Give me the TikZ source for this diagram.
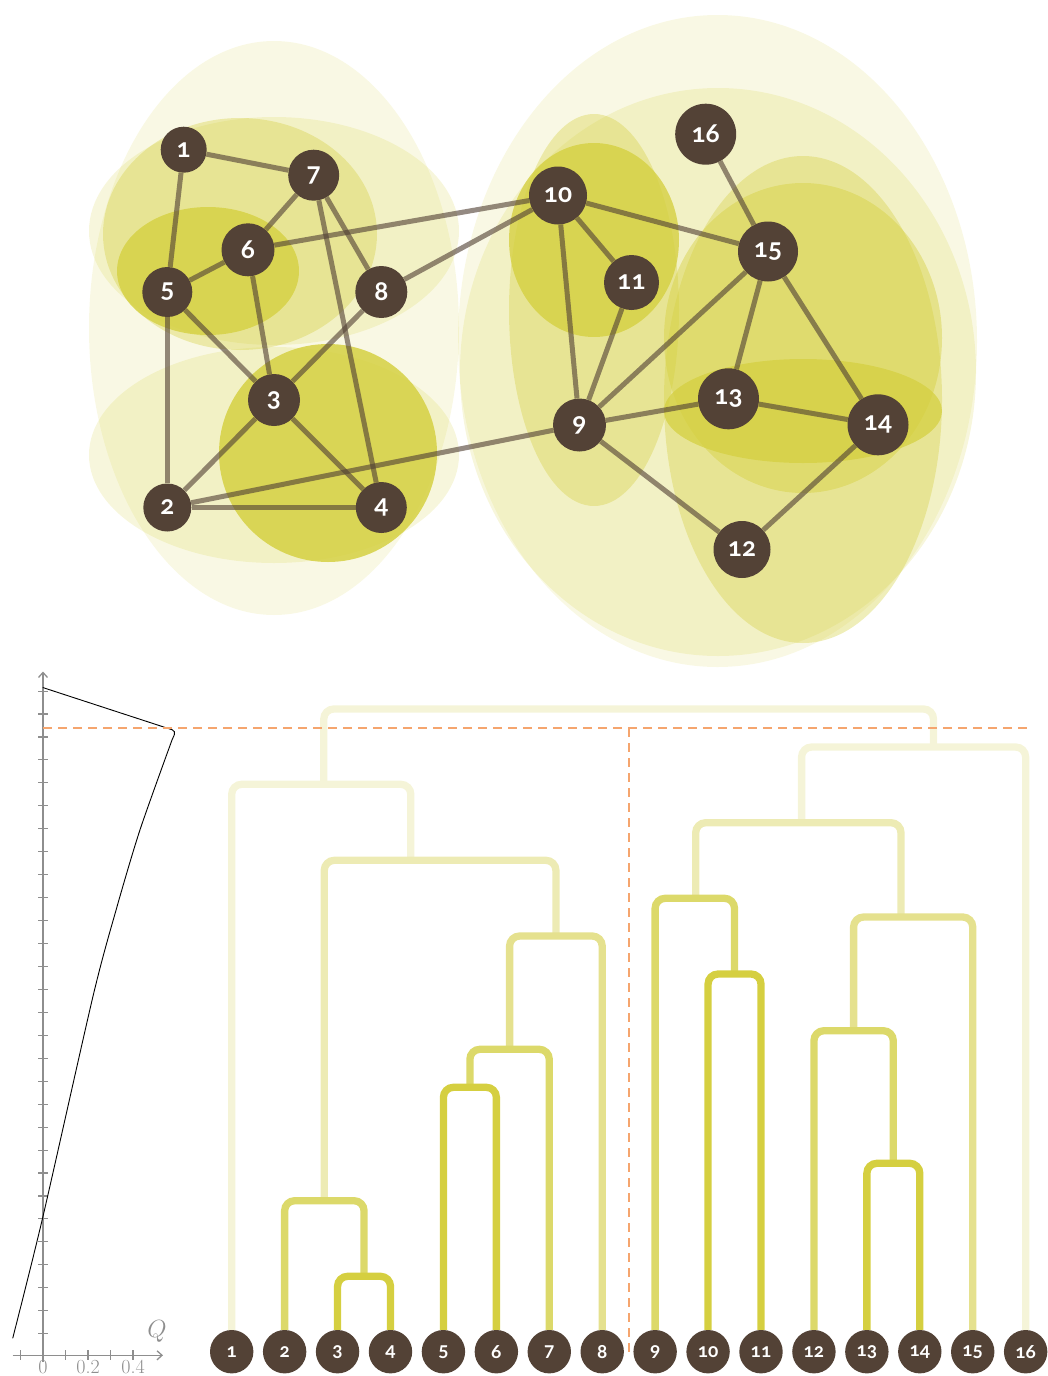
\documentclass[tikz,border=0pt]{standalone}
\usepackage{fontspec}
\newfontfamily\numfont{Lato}[Numbers=OldStyle]
\usetikzlibrary{arrows.meta}
\definecolor{nodebrown}{HTML}{534236}
\definecolor{blobY}{HTML}{D4CF3E}
\definecolor{dA}{HTML}{D5CF40}
\definecolor{dB}{HTML}{DCD96A}
\definecolor{dC}{HTML}{E5E18E}
\definecolor{dD}{HTML}{EDEBB4}
\definecolor{dE}{HTML}{F5F4D8}
\definecolor{cutorange}{HTML}{F5A56E}
\definecolor{axisgray}{HTML}{8E8E8E}
\begin{document}
\begin{tikzpicture}[x=1pt,y=-1pt,
  gnode/.style={circle,fill=nodebrown,text=white,inner sep=0pt,
    font=\numfont\bfseries\fontsize{26}{26}\selectfont},
  leaf/.style={circle,fill=nodebrown,text=white,inner sep=0pt,minimum size=43.4pt,
    font=\numfont\bfseries\fontsize{19}{19}\selectfont},
  edge/.style={draw=nodebrown,draw opacity=0.62,line width=5pt},
  blob/.style={fill=blobY,fill opacity=#1},
  dend/.style={line width=7.3pt,rounded corners=10pt},
  cut/.style={draw=cutorange,line width=1.5pt,dash pattern=on 9pt off 6pt},
  axis/.style={draw=axisgray,line width=1.3pt},
  tick/.style={draw=axisgray,line width=1.1pt},
  axlabel/.style={text=axisgray,inner sep=0pt,anchor=base,font=\fontsize{20}{20}\selectfont}
]
\useasboundingbox (0,0) rectangle (1047,1376);

% ---------- cluster blobs ----------
\fill[blob=0.14] (274,328) ellipse [x radius=185pt, y radius=287pt];
\fill[blob=0.18] (274,231) ellipse [x radius=185pt, y radius=114pt];
\fill[blob=0.36] (240,234) ellipse [x radius=137pt, y radius=116pt];
\fill[blob=0.78] (208,271) ellipse [x radius=91pt, y radius=64pt];
\fill[blob=0.18] (274,455) ellipse [x radius=185pt, y radius=108pt];
\fill[blob=0.83] (328,453) ellipse [x radius=109pt, y radius=109pt];

\fill[blob=0.14] (717.5,341) ellipse [x radius=259.5pt, y radius=326pt];
\fill[blob=0.18] (718,372) ellipse [x radius=258pt, y radius=284pt];
\fill[blob=0.36] (594,310) ellipse [x radius=85pt, y radius=196pt];
\fill[blob=0.78] (594,240) ellipse [x radius=85pt, y radius=97pt];
\fill[blob=0.36] (803,399.5) ellipse [x radius=139pt, y radius=243.5pt];
\fill[blob=0.44] (803,338) ellipse [x radius=139pt, y radius=155pt];
\fill[blob=0.72] (803,411) ellipse [x radius=139pt, y radius=52pt];

% ---------- graph nodes ----------
\node[gnode,minimum size=46pt] (n1) at (183.7,149.7) {1};
\node[gnode,minimum size=51pt] (n7) at (313.7,175.2) {7};
\node[gnode,minimum size=53pt] (n6) at (248,249.8) {6};
\node[gnode,minimum size=50pt] (n5) at (167.3,292) {5};
\node[gnode,minimum size=52pt] (n8) at (381.3,292) {8};
\node[gnode,minimum size=52pt] (n3) at (274,400) {3};
\node[gnode,minimum size=48pt] (n2) at (167.3,507.5) {2};
\node[gnode,minimum size=51pt] (n4) at (381.3,507.5) {4};
\node[gnode,minimum size=58pt] (n10) at (558,195.5) {10};
\node[gnode,minimum size=55pt] (n11) at (631.5,282.5) {11};
\node[gnode,minimum size=53pt] (n9) at (579.5,425) {9};
\node[gnode,minimum size=60pt] (n15) at (768,251.5) {15};
\node[gnode,minimum size=61pt] (n16) at (705.7,134.2) {16};
\node[gnode,minimum size=61pt] (n13) at (728.5,398.8) {13};
\node[gnode,minimum size=61pt] (n14) at (878,424.8) {14};
\node[gnode,minimum size=57pt] (n12) at (742,549.5) {12};

% ---------- graph edges ----------
\foreach \a/\b in {1/7,1/5,7/6,7/8,7/4,6/5,6/3,6/10,5/3,5/2,8/3,8/10,3/2,3/4,2/4,2/9,
  10/11,10/9,10/15,11/9,9/15,9/13,9/12,16/15,15/13,15/14,13/14,14/12}
  \draw[edge] (n\a) -- (n\b);

% ---------- dendrogram ----------
\foreach \i in {1,...,16}
  \node[leaf] (l\i) at ({231.7+52.93*(\i-1)},1351.7) {\i};

\coordinate (mroot) at (628,709);
\coordinate (m18) at (323.8,784.3);
\coordinate (m28) at (410.8,860.3);
\coordinate (m234) at (324.3,1200.7);
\coordinate (m34) at (364.05,1276.3);
\coordinate (m58) at (555.9,936);
\coordinate (m567) at (509.6,1049.3);
\coordinate (m56) at (469.9,1087.3);
\coordinate (m916) at (933.5,747);
\coordinate (m915) at (801.6,822.7);
\coordinate (m911) at (695.7,898.3);
\coordinate (m1011) at (734.5,974);
\coordinate (m1215) at (901,917);
\coordinate (m1214) at (853.6,1030.7);
\coordinate (m1314) at (893.3,1163.3);

\draw[dend,dE] (m18) |- (mroot) -| (m916);
\draw[dend,dE] (l1.north) |- (m18) -| (m28);
\draw[dend,dD] (m234) |- (m28) -| (m58);
\draw[dend,dB] (l2.north) |- (m234) -| (m34);
\draw[dend,dA] (l3.north) |- (m34) -| (l4.north);
\draw[dend,dC] (m567) |- (m58) -| (l8.north);
\draw[dend,dB] (m56) |- (m567) -| (l7.north);
\draw[dend,dA] (l5.north) |- (m56) -| (l6.north);
\draw[dend,dE] (m915) |- (m916) -| (l16.north);
\draw[dend,dD] (m911) |- (m915) -| (m1215);
\draw[dend,dB] (l9.north) |- (m911) -| (m1011);
\draw[dend,dA] (l10.north) |- (m1011) -| (l11.north);
\draw[dend,dC] (m1214) |- (m1215) -| (l15.north);
\draw[dend,dB] (l12.north) |- (m1214) -| (m1314);
\draw[dend,dA] (l13.north) |- (m1314) -| (l14.north);

% ---------- axes ----------
\coordinate (yb) at (43,1362);
\coordinate (yt) at (43,671.5);
\coordinate (xl) at (12.7,1355.3);
\coordinate (xr) at (163,1355.3);
\draw[axis,-{Straight Barb[length=5pt,width=9pt]}] (yb) -- (yt);
\draw[axis,-{Straight Barb[length=5pt,width=9pt]}] (xl) -- (xr);
\foreach \k in {1,...,29}
  \draw[tick] (38,{1356.6-22.95*\k}) -- (48,{1356.6-22.95*\k});
\foreach \k in {0,...,5}
  \draw[tick] ({20.5+22.5*\k},1350.3) -- ({20.5+22.5*\k},1360.3);
\node[axlabel] (t0) at (43,1373.5) {0};
\node[axlabel] (t2) at (88,1373.5) {0.2};
\node[axlabel] (t4) at (133,1373.5) {0.4};
\node[text=axisgray,inner sep=0pt,font=\fontsize{31}{31}\selectfont] (qlab) at (157,1331) {$Q$};

% Q curve
\draw[black,line width=0.9pt] plot[smooth,tension=0.45] coordinates
  {(12.7,1338.3) (42.7,1217.6) (93.3,995) (116.7,907.8) (140,829.8) (172,740)};
\draw[black,line width=0.9pt,rounded corners=4pt]
  (172,740) -- (176,731) -- (42.7,687.5);

% ---------- cut lines ----------
\coordinate (ch0) at (43,728);
\coordinate (ch1) at (1028,728);
\coordinate (cv0) at (629,728);
\coordinate (cv1) at (629,1352);
\draw[cut] (ch0) -- (ch1);
\draw[cut] (cv0) -- (cv1);
\end{tikzpicture}
\end{document}
